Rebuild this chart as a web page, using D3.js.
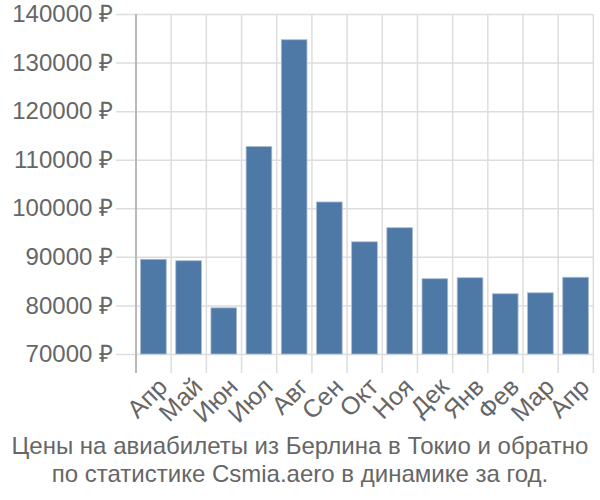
<!DOCTYPE html>
<html>
<head>
<meta charset="utf-8">
<script src="https://cdn.jsdelivr.net/npm/d3@7"></script>
<style>
  body { margin: 0; background: #fff; overflow: hidden; }
  svg { display: block; }
  text { font-family: "Liberation Sans", Arial, sans-serif; }
</style>
</head>
<body>
<svg id="chart"></svg>
<script>
const width = 600;
const height = 500;
const margin = { left: 136, right: 7, top: 14, bottom: 146 };

const months = ["Апр", "Май", "Июн", "Июл", "Авг", "Сен", "Окт", "Ноя", "Дек", "Янв", "Фев", "Мар", "Апр"];
const prices = [89500, 89200, 79500, 112700, 134700, 101300, 93100, 96000, 85500, 85700, 82400, 82600, 85800];
const yTicks = [70000, 80000, 90000, 100000, 110000, 120000, 130000, 140000];
const titleLines = [
  "Цены на авиабилеты из Берлина в Токио и обратно",
  "по статистике Csmia.aero в динамике за год."
];

const innerWidth  = width  - margin.left - margin.right;
const innerHeight = height - margin.top  - margin.bottom;

const svg = d3.select("#chart")
  .attr("width", width)
  .attr("height", height);

const g = svg.append("g")
  .attr("transform", `translate(${margin.left},${margin.top})`);

const data = months.map((m, i) => ({ key: i, month: m, price: prices[i] }));

const x = d3.scaleBand()
  .domain(data.map(d => d.key))
  .range([0, innerWidth])
  .paddingInner(0.27)
  .paddingOuter(0.13);

const y = d3.scaleLinear()
  .domain([70000, 140000])
  .range([innerHeight, 0]);

const step = x.step();

// vertical grid at band boundaries
g.append("g")
  .selectAll("line")
  .data(d3.range(months.length + 1))
  .enter()
  .append("line")
  .attr("x1", i => i * step)
  .attr("x2", i => i * step)
  .attr("y1", 0)
  .attr("y2", innerHeight + 19)
  .attr("stroke", "#dddddd")
  .attr("stroke-width", 1.5);

// horizontal grid + y labels
const yAxis = g.append("g")
  .call(d3.axisLeft(y)
    .tickValues(yTicks)
    .tickSize(-innerWidth - 20)
    .tickPadding(3)
    .tickFormat(d => d + " ₽"))
  .attr("transform", "translate(-20,0)");

yAxis.select(".domain").remove();
yAxis.selectAll(".tick line")
  .attr("stroke", "#dddddd")
  .attr("stroke-width", 1.5);
yAxis.selectAll(".tick text")
  .attr("fill", "#666666")
  .style("font-size", "24px")
  .style("font-family", "'Liberation Sans', Arial, sans-serif");

// bars
g.append("g")
  .selectAll("rect")
  .data(data)
  .enter()
  .append("rect")
  .attr("x", d => x(d.key))
  .attr("width", x.bandwidth())
  .attr("y", d => y(d.price))
  .attr("height", d => innerHeight - y(d.price))
  .attr("fill", "#4e79a7")
  .attr("stroke", "#a9bcd3")
  .attr("stroke-width", 0.8);

// y axis line
g.append("line")
  .attr("x1", 0).attr("x2", 0)
  .attr("y1", 0).attr("y2", innerHeight + 19)
  .attr("stroke", "#aaaaaa")
  .attr("stroke-width", 1.5);

// month labels
g.append("g")
  .selectAll("text")
  .data(data)
  .enter()
  .append("text")
  .attr("transform", d => `translate(${x(d.key) + x.bandwidth() / 2 + 3},${innerHeight + 22}) rotate(-45)`)
  .attr("text-anchor", "end")
  .attr("dy", "0.7em")
  .attr("fill", "#666666")
  .style("font-size", "25px")
  .text(d => d.month);

// title
svg.append("g")
  .selectAll("text")
  .data(titleLines)
  .enter()
  .append("text")
  .attr("x", width / 2)
  .attr("y", (d, i) => 454 + i * 28)
  .attr("text-anchor", "middle")
  .attr("fill", "#666666")
  .style("font-size", "24px")
  .text(d => d);
</script>
</body>
</html>
